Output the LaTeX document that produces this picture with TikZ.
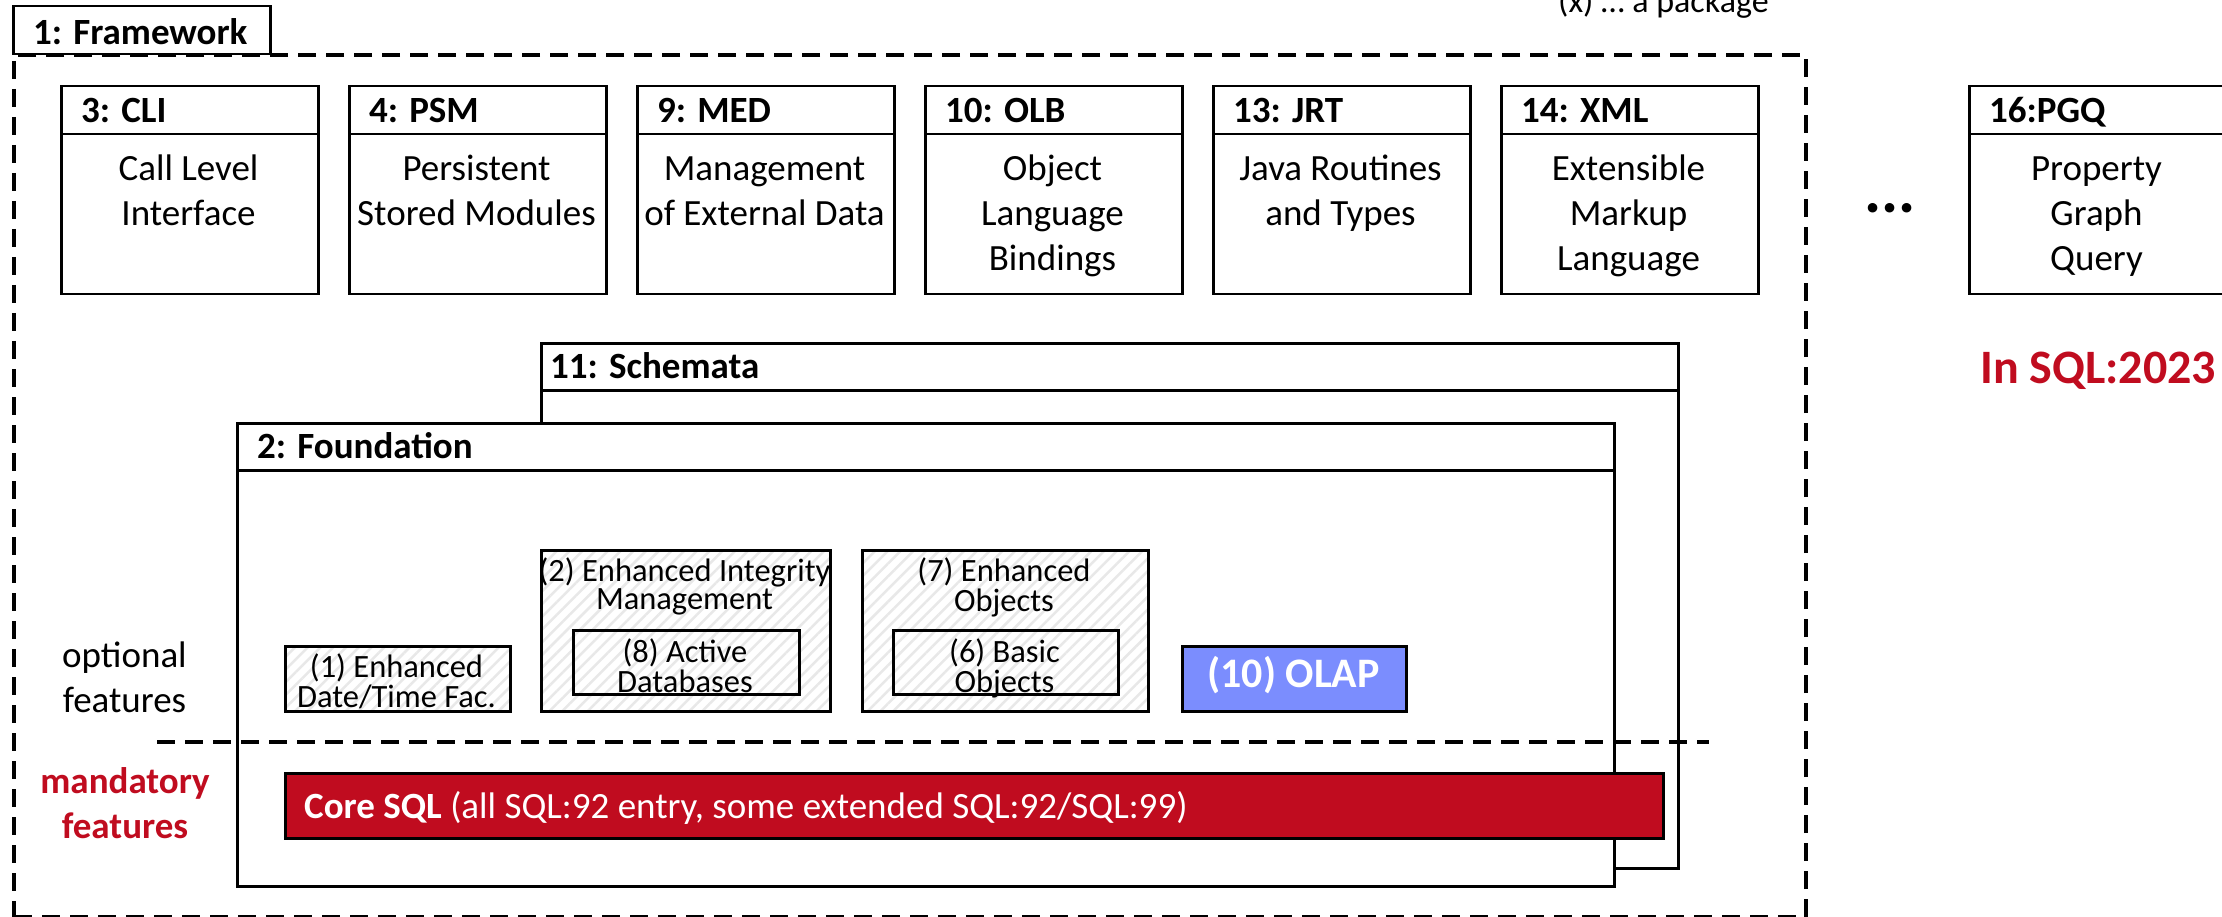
\documentclass[tikz,border=0pt]{standalone}
\usepackage{fontspec}
\setmainfont{Carlito}
\usetikzlibrary{patterns.meta}
\definecolor{sqlred}{RGB}{192,12,31}
\definecolor{olapblue}{RGB}{123,141,254}
\definecolor{hatchgray}{RGB}{232,232,232}
\newcommand{\setfs}[2]{\fontsize{#1pt}{#2pt}\selectfont}
% centred lines whose baseline is that of the first line
\newcommand{\toplines}[1]{\begin{tabular}[t]{@{}c@{}}#1\end{tabular}}

\tikzset{
  outline/.style={draw=black, line width=2.5pt, fill=white, inner sep=0pt},
  % package box with a header strip of the given height
  pkgbox/.style={outline, path picture={
      \draw[line width=2.5pt]
        ([yshift=-#1]path picture bounding box.north west) --
        ([yshift=-#1]path picture bounding box.north east);}},
  hatched/.style={draw=black, line width=2.5pt, inner sep=0pt,
      preaction={fill=white},
      pattern={Lines[angle=45,distance=9pt,line width=2.5pt]},
      pattern color=hatchgray},
  dashline/.style={draw=black, line width=4pt, dash pattern=on 18pt off 10pt},
  titletext/.style={font=\bfseries\setfs{37}{45}, inner sep=0pt, anchor=base west},
  bodytext/.style={font=\setfs{37}{45}, inner sep=0pt, anchor=base},
  feattext/.style={font=\setfs{32.5}{25}, inner sep=0pt, anchor=base},
}

\newcommand{\pkg}[4]{%
  \node[pkgbox=48pt, minimum width=257pt, minimum height=208pt, anchor=north west] (#1) at (#2,85) {};
  \node[titletext] (#1-title) at (#2+21,123) {#3};
  \node[bodytext] (#1-body) at (#2+128.5,181) {\toplines{#4}};
}

\begin{document}
\begin{tikzpicture}[x=1pt,y=-1pt]
\useasboundingbox (0,0) rectangle (2222,917);

% legend at the top
\node[font=\setfs{34}{42}, inner sep=0pt, anchor=base west] (legend) at (1558,13) {(x) … a package};

% Part 1: framework (dashed frame with a tab)
\node[dashline, minimum width=1792pt, minimum height=862pt, anchor=north west, inner sep=0pt] (framework) at (12,53) {};
\node[outline, minimum width=257pt, minimum height=48pt, anchor=north west] (fwtab) at (12,5) {};
\node[titletext] (fwtitle) at (33,45) {1: Framework};

% top row of parts
\pkg{cli}{60}{3: CLI}{Call Level\\Interface}
\pkg{psm}{348}{4: PSM}{Persistent\\Stored Modules}
\pkg{med}{636}{9: MED}{Management\\of External Data}
\pkg{olb}{924}{10: OLB}{Object\\Language\\Bindings}
\pkg{jrt}{1212}{13: JRT}{Java Routines\\and Types}
\pkg{xml}{1500}{14: XML}{Extensible\\Markup\\Language}

\node[font=\bfseries\setfs{64}{64}, inner sep=0pt, anchor=base] (dots) at (1890,213) {...};
\pkg{pgq}{1968}{16:PGQ}{Property\\Graph\\Query}
\node[font=\bfseries\setfs{48}{56}, text=sqlred, inner sep=0pt, anchor=base west] (sql2023) at (1980,383) {In SQL:2023};

% Part 11 behind Part 2
\node[pkgbox=47pt, minimum width=1137pt, minimum height=525pt, anchor=north west] (schemata) at (540,342) {};
\node[titletext] (schematatitle) at (550,378) {11: Schemata};
\node[pkgbox=47pt, minimum width=1377pt, minimum height=463pt, anchor=north west] (foundation) at (236,422) {};
\node[titletext] (foundationtitle) at (257,458) {2: Foundation};

% optional feature packages
\node[hatched, minimum width=225pt, minimum height=65pt, anchor=north west] (f1) at (284,645) {};
\node[feattext] (f1text) at (396.5,677) {\toplines{(1) Enhanced\\Date/Time Fac.}};

\node[hatched, minimum width=289pt, minimum height=161pt, anchor=north west] (f2) at (540,549) {};
\node[feattext] (f2text) at (684.5,581) {\toplines{(2) Enhanced Integrity\\Management}};
\node[hatched, minimum width=226pt, minimum height=64pt, anchor=north west] (f8) at (572,629) {};
\node[feattext] (f8text) at (685,662) {\toplines{(8) Active\\Databases}};

\node[hatched, minimum width=286pt, minimum height=161pt, anchor=north west] (f7) at (861,549) {};
\node[feattext] (f7text) at (1004,581) {\toplines{(7) Enhanced\\Objects}};
\node[hatched, minimum width=225pt, minimum height=64pt, anchor=north west] (f6) at (892,629) {};
\node[feattext] (f6text) at (1004.5,662) {\toplines{(6) Basic\\Objects}};

\node[outline, fill=olapblue, minimum width=224pt, minimum height=65pt, anchor=north west] (olap) at (1181,645) {};
\node[font=\bfseries\setfs{42}{50}, text=white, inner sep=0pt, anchor=base] (olaptext) at (1293.5,687) {(10) OLAP};

% border between optional and mandatory features
\coordinate (sepL) at (157,742);
\coordinate (sepR) at (1709,742);
\draw[dashline] (sepL) -- (sepR);

\node[font=\setfs{37}{45}, inner sep=0pt, anchor=base] (optional) at (124.5,667) {\toplines{optional\\features}};
\node[font=\bfseries\setfs{37}{45}, text=sqlred, inner sep=0pt, anchor=base] (mandatory) at (125,793) {\toplines{mandatory\\features}};

% Core SQL
\node[draw=black, line width=3pt, fill=sqlred, inner sep=0pt, minimum width=1378pt, minimum height=65pt, anchor=north west] (core) at (284,772) {};
\node[font=\setfs{37}{45}, text=white, inner sep=0pt, anchor=base west] (coretext) at (304,818)
  {\textbf{Core SQL} (all SQL:92 entry, some extended SQL:92/SQL:99)};
\end{tikzpicture}
\end{document}
